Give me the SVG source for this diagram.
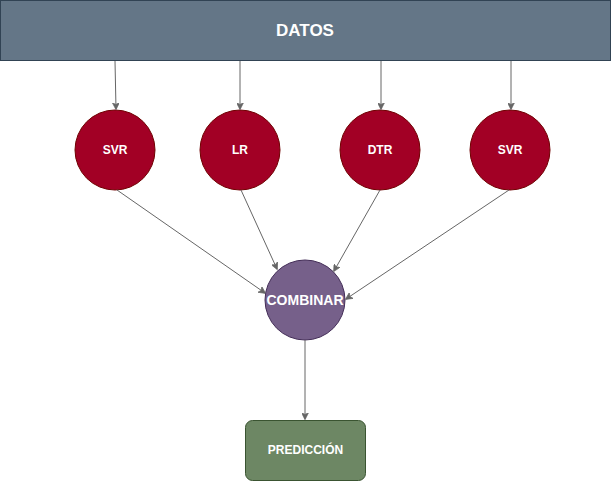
<svg xmlns="http://www.w3.org/2000/svg" width="611" height="481" viewBox="0 0 611 481">
<style>
.t{font-family:"Liberation Sans",Arial,sans-serif;font-weight:bold;fill:#ffffff;text-anchor:middle;dominant-baseline:central}
.m{fill:#a20025;stroke:#6f0000;stroke-width:1}
.e{stroke:#666666;stroke-width:1;fill:none;marker-end:url(#a)}
</style>
<defs>
<marker id="a" viewBox="0 0 10 10" refX="9" refY="5" markerWidth="7" markerHeight="7" orient="auto" markerUnits="userSpaceOnUse">
<path d="M0,0 L10,5 L0,10 L2.5,5 Z" fill="#666666" stroke="#666666"/>
</marker>
</defs>
<rect width="611" height="481" fill="#ffffff"/>
<g id="datos">
<rect x="0.5" y="0.5" width="610" height="60" fill="#647687" stroke="#314354"/>
<text class="t" x="305" y="30" font-size="17">DATOS</text>
</g>
<g id="svr1"><circle class="m" cx="115" cy="150" r="40"/><text class="t" x="115" y="150" font-size="12">SVR</text></g>
<g id="lr"><circle class="m" cx="240" cy="150" r="40"/><text class="t" x="240" y="150" font-size="12">LR</text></g>
<g id="dtr"><circle class="m" cx="380" cy="150" r="40"/><text class="t" x="380" y="150" font-size="12">DTR</text></g>
<g id="svr2"><circle class="m" cx="510" cy="150" r="40"/><text class="t" x="510" y="150" font-size="12">SVR</text></g>
<g id="combinar"><circle cx="305" cy="300" r="40" fill="#76608a" stroke="#432d57"/><text class="t" x="305" y="300" font-size="14">COMBINAR</text></g>
<g id="prediccion"><rect x="245.5" y="420.5" width="120" height="60" rx="7" fill="#6d8764" stroke="#3a5431"/><text class="t" x="305.5" y="450" font-size="12">PREDICCIÓN</text></g>
<g id="connectors">
<path class="e" d="M115,61 L116,109"/>
<path class="e" d="M240,61 L240,109"/>
<path class="e" d="M381,61 L381,109"/>
<path class="e" d="M511,61 L511,109"/>
<path class="e" d="M117,190 L265,293"/>
<path class="e" d="M241,190 L277,269"/>
<path class="e" d="M380,190 L334,271"/>
<path class="e" d="M509,190 L346,299"/>
<path class="e" d="M305,340 L305,419"/>
</g>
</svg>
